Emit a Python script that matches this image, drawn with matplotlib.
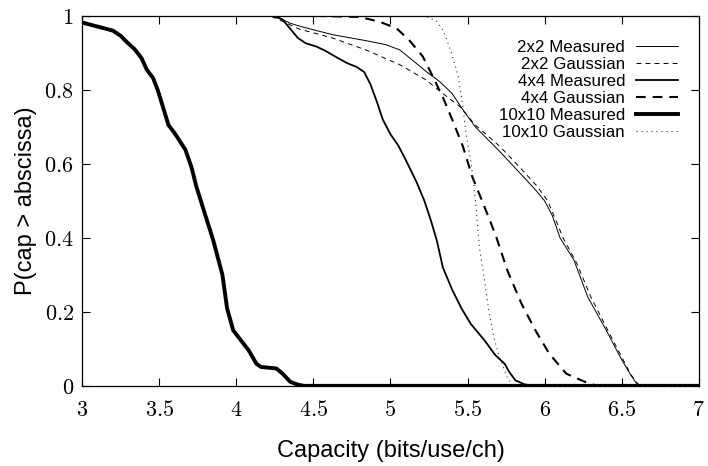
import matplotlib
matplotlib.use("Agg")
import matplotlib.pyplot as plt
from matplotlib.ticker import FuncFormatter, MultipleLocator

cap_2x2_meas = [3.0, 4.22, 4.30, 4.35, 4.42, 4.625, 4.84, 4.97, 5.06, 5.14, 5.23, 5.32,
                5.40, 5.47, 5.55, 5.71, 5.84, 5.94, 6.00, 6.05, 6.10, 6.19, 6.28, 6.40, 6.49,
                6.55, 6.59, 6.61, 7.0]
p_2x2_meas = [1.0, 1.0, 0.99, 0.98, 0.971, 0.949, 0.933, 0.922, 0.908, 0.881, 0.85, 0.822,
              0.79, 0.746, 0.70, 0.633, 0.575, 0.53, 0.50, 0.46, 0.40, 0.34, 0.24, 0.15, 0.078,
              0.035, 0.01, 0.0, 0.0]

cap_2x2_gauss = [3.0, 4.22, 4.30, 4.41, 4.625, 4.84, 5.06, 5.23, 5.34, 5.45, 5.55, 5.71,
                 5.84, 5.95, 6.02, 6.07, 6.12, 6.21, 6.30, 6.41, 6.50, 6.56, 6.60, 6.62, 7.0]
p_2x2_gauss = [1.0, 1.0, 0.985, 0.964, 0.94, 0.908, 0.868, 0.827, 0.79, 0.755, 0.705, 0.647,
               0.59, 0.54, 0.50, 0.45, 0.40, 0.33, 0.24, 0.15, 0.078, 0.03, 0.008, 0.0, 0.0]

cap_4x4_meas = [3.0, 4.25, 4.30, 4.35, 4.40, 4.45, 4.52, 4.58, 4.65, 4.72, 4.78, 4.83,
                4.87, 4.91, 4.95, 5.00, 5.05, 5.10, 5.17, 5.22, 5.26, 5.30, 5.34, 5.40,
                5.46, 5.52, 5.61, 5.68, 5.74, 5.77, 5.81, 5.87, 5.93, 7.0]
p_4x4_meas = [1.0, 1.0, 0.99, 0.965, 0.94, 0.926, 0.917, 0.905, 0.888, 0.872, 0.862, 0.848,
              0.815, 0.77, 0.72, 0.68, 0.65, 0.61, 0.55, 0.50, 0.45, 0.394, 0.32, 0.26,
              0.21, 0.168, 0.123, 0.083, 0.06, 0.038, 0.015, 0.004, 0.0, 0.0]

cap_4x4_gauss = [3.0, 4.5, 4.8, 4.93, 5.04, 5.12, 5.21, 5.27, 5.34, 5.40, 5.47, 5.53,
                 5.60, 5.68, 5.76, 5.85, 5.94, 6.03, 6.14, 6.26, 6.34, 7.0]
p_4x4_gauss = [1.0, 1.0, 0.997, 0.984, 0.966, 0.935, 0.89, 0.84, 0.78, 0.72, 0.647, 0.566,
               0.494, 0.41, 0.31, 0.222, 0.15, 0.087, 0.033, 0.011, 0.0, 0.0]

cap_10x10_meas = [3.0, 3.1, 3.2, 3.25, 3.29, 3.34, 3.385, 3.42, 3.46, 3.49, 3.53, 3.56,
                  3.60, 3.67, 3.71, 3.74, 3.77, 3.80, 3.85, 3.91, 3.94, 3.98, 4.03, 4.08,
                  4.13, 4.16, 4.21, 4.26, 4.30, 4.35, 4.40, 4.44, 7.0]
p_10x10_meas = [0.982, 0.971, 0.96, 0.946, 0.929, 0.91, 0.886, 0.854, 0.832, 0.80, 0.746, 0.705,
                0.683, 0.638, 0.59, 0.54, 0.50, 0.46, 0.394, 0.30, 0.21, 0.15, 0.123, 0.096,
                0.06, 0.051, 0.049, 0.047, 0.033, 0.011, 0.003, 0.0, 0.0]

cap_10x10_gauss = [3.0, 5.18, 5.25, 5.30, 5.34, 5.39, 5.44, 5.47, 5.49, 5.52, 5.54, 5.555,
                   5.576, 5.61, 5.64, 5.67, 5.705, 5.73, 5.76, 5.80, 7.0]
p_10x10_gauss = [1.0, 1.0, 0.996, 0.985, 0.962, 0.908, 0.836, 0.755, 0.683, 0.61, 0.545, 0.485,
                 0.376, 0.286, 0.197, 0.133, 0.079, 0.052, 0.02, 0.0, 0.0]

plt.rcParams['mathtext.fontset'] = 'cm'
plt.rcParams['lines.scale_dashes'] = False
plt.rcParams['font.family'] = ['Liberation Sans', 'DejaVu Sans']

fig = plt.figure(figsize=(7.08, 4.66), dpi=100)
ax = fig.add_axes([0.116, 0.172, 0.871, 0.794])

ax.plot(cap_2x2_meas, p_2x2_meas, color='black', lw=0.7, label='2x2 Measured')
ax.plot(cap_2x2_gauss, p_2x2_gauss, color='black', lw=0.7, ls=(0, (3.5, 3)), label='2x2 Gaussian')
ax.plot(cap_4x4_meas, p_4x4_meas, color='black', lw=1.3, label='4x4 Measured')
ax.plot(cap_4x4_gauss, p_4x4_gauss, color='black', lw=1.5, ls=(0, (7, 5)), label='4x4 Gaussian')
ax.plot(cap_10x10_meas, p_10x10_meas, color='black', lw=2.8, label='10x10 Measured')
ax.plot(cap_10x10_gauss, p_10x10_gauss, color='#333333', lw=0.8, ls=(0, (0.8, 2.8)), label='10x10 Gaussian')

ax.set_xlim(3, 7)
ax.set_ylim(0, 1)
ax.xaxis.set_major_locator(MultipleLocator(0.5))
ax.yaxis.set_major_locator(MultipleLocator(0.2))
fmt = FuncFormatter(lambda v, pos: '$%g$' % round(v, 2))
ax.xaxis.set_major_formatter(fmt)
ax.yaxis.set_major_formatter(fmt)
ax.tick_params(direction='in', length=6, width=0.8, top=True, right=True, labelsize=16)
ax.tick_params(axis='x', pad=10)
ax.tick_params(axis='y', pad=6)
for s in ax.spines.values():
    s.set_linewidth(0.9)

ax.set_xlabel('Capacity (bits/use/ch)', fontsize=17, labelpad=14)
ax.set_ylabel('P(cap > abscissa)', fontsize=17, labelpad=5)

ax.legend(loc='upper right', bbox_to_anchor=(0.967, 0.936), frameon=False, markerfirst=False,
          fontsize=12.2, handlelength=2.5, handletextpad=0.65, labelspacing=0.12,
          borderpad=0, borderaxespad=0)

fig.savefig('out.png', dpi=100)
